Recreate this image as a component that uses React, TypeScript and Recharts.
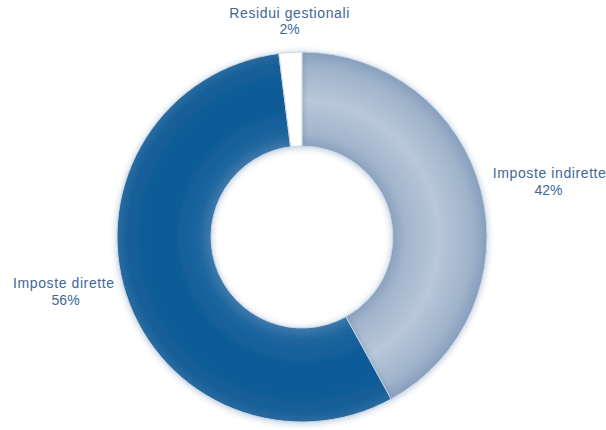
import { PieChart, Pie, Cell } from "recharts";

const categories = ["Imposte indirette", "Imposte dirette", "Residui gestionali"];
const shares = [42, 56, 2];
const fills = ["url(#gradIndirette)", "url(#gradDirette)", "#ffffff"];

const data = categories.map((name, i) => ({ name, value: shares[i] }));

const RAD = Math.PI / 180;
const FONT = "Liberation Sans, Arial, sans-serif";

function renderLabel(props: any) {
  const { cx, cy, midAngle, outerRadius, name, value } = props;
  const r = outerRadius + 12;
  const cos = Math.cos(-midAngle * RAD);
  const sin = Math.sin(-midAngle * RAD);
  const x = cx + r * cos;
  const y = cy + r * sin;
  let anchor: "start" | "middle" | "end" = "middle";
  let y1 = y - 10;
  let gap = 17;
  if (Math.abs(cos) < 0.3) {
    anchor = "middle";
    y1 = sin < 0 ? y - 22 : y + 12;
    gap = 16;
  } else {
    anchor = cos > 0 ? "start" : "end";
  }
  const half = String(name).length * 3.27;
  const x2 = anchor === "middle" ? x : anchor === "start" ? x + half : x - half;
  return (
    <g>
      <text x={x} y={y1} textAnchor={anchor} fill="#3f6795" fontSize={14} letterSpacing={0.6} fontFamily={FONT}>
        {name}
      </text>
      <text x={x2} y={y1 + gap} textAnchor="middle" fill="#3f6795" fontSize={14} fontFamily={FONT}>
        {value}%
      </text>
    </g>
  );
}

export default function App() {
  const cx = 297;
  const cy = 232;
  const gx = cx + 5;
  const gy = cy + 5;
  return (
    <div style={{ position: "absolute", left: 0, top: 0, background: "#fff" }}>
      <PieChart width={606} height={430}>
        <defs>
          <radialGradient id="gradIndirette" gradientUnits="userSpaceOnUse" cx={gx} cy={gy} r={185}>
            <stop offset="0.49" stopColor="#8aa1bf" />
            <stop offset="0.56" stopColor="#a3b5cc" />
            <stop offset="0.74" stopColor="#b8c7d9" />
            <stop offset="0.92" stopColor="#9fb3ca" />
            <stop offset="1" stopColor="#879fbd" />
          </radialGradient>
          <radialGradient id="gradDirette" gradientUnits="userSpaceOnUse" cx={gx} cy={gy} r={185}>
            <stop offset="0.49" stopColor="#3f79ab" />
            <stop offset="0.56" stopColor="#1d669f" />
            <stop offset="0.72" stopColor="#0c5a97" />
            <stop offset="0.93" stopColor="#135e98" />
            <stop offset="1" stopColor="#2a6b9f" />
          </radialGradient>
          <filter id="glow" x="-20%" y="-20%" width="140%" height="140%">
            <feGaussianBlur in="SourceAlpha" stdDeviation="3" />
            <feOffset dx="0" dy="1" result="blur" />
            <feFlood floodColor="#2c5f93" floodOpacity="0.35" />
            <feComposite in2="blur" operator="in" />
            <feMerge>
              <feMergeNode />
              <feMergeNode in="SourceGraphic" />
            </feMerge>
          </filter>
        </defs>
        <Pie
          data={data}
          dataKey="value"
          nameKey="name"
          cx={cx}
          cy={cy}
          innerRadius={91}
          outerRadius={185}
          startAngle={90}
          endAngle={-270}
          stroke="#c9d4e2"
          strokeWidth={1}
          label={renderLabel}
          labelLine={false}
          isAnimationActive={false}
          style={{ filter: "url(#glow)" }}
        >
          {data.map((d, i) => (
            <Cell key={d.name} fill={fills[i]} />
          ))}
        </Pie>
      </PieChart>
    </div>
  );
}
